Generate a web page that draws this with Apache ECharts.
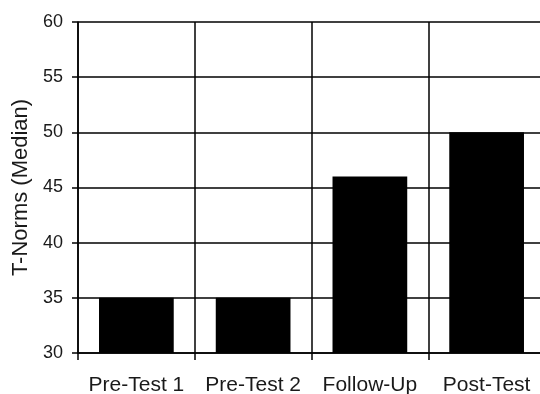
<!DOCTYPE html>
<html>
<head>
<meta charset="utf-8">
<script src="https://cdn.jsdelivr.net/npm/echarts@6/dist/echarts.min.js"></script>
<style>
  html, body { margin: 0; padding: 0; background: #fff; }
  #main { width: 540px; height: 394px; }
</style>
</head>
<body>
<div id="main"></div>
<script>
const categories = ['Pre-Test 1', 'Pre-Test 2', 'Follow-Up', 'Post-Test']
const medians = [35, 35, 46, 50]
const yName = 'T-Norms (Median)'
const yMin = 30
const yMax = 60
const yStep = 5

const font = 'Arial, "Liberation Sans", sans-serif'
const chart = echarts.init(document.getElementById('main'))

chart.setOption({
    animation: false,
    grid: { left: 78, top: 22, width: 467, bottom: 41, containLabel: false, outerBoundsMode: 'none' },
    xAxis: {
        type: 'category',
        data: categories,
        axisLine: { show: true, lineStyle: { color: '#000', width: 1.5 } },
        axisTick: { show: true, length: 7, interval: 0, lineStyle: { color: '#000', width: 1.5 } },
        axisLabel: { color: '#1a1a1a', fontSize: 21, fontFamily: font, margin: 22, interval: 0 },
        splitLine: { show: true, interval: 0, lineStyle: { color: '#000', width: 1.5 } }
    },
    yAxis: {
        type: 'value',
        min: yMin,
        max: yMax,
        interval: yStep,
        name: yName,
        nameLocation: 'middle',
        nameGap: 43,
        nameTextStyle: { color: '#1a1a1a', fontSize: 22, fontFamily: font },
        axisLine: { show: true, lineStyle: { color: '#000', width: 1.5 } },
        axisTick: { show: true, length: 6, lineStyle: { color: '#000', width: 1.5 } },
        axisLabel: { color: '#1a1a1a', fontSize: 18, fontFamily: font, margin: 15 },
        splitLine: { show: true, lineStyle: { color: '#000', width: 1.5 } }
    },
    series: [{
        type: 'bar',
        data: medians,
        barCategoryGap: '36%',
        itemStyle: { color: '#000' }
    }]
})
</script>
</body>
</html>
